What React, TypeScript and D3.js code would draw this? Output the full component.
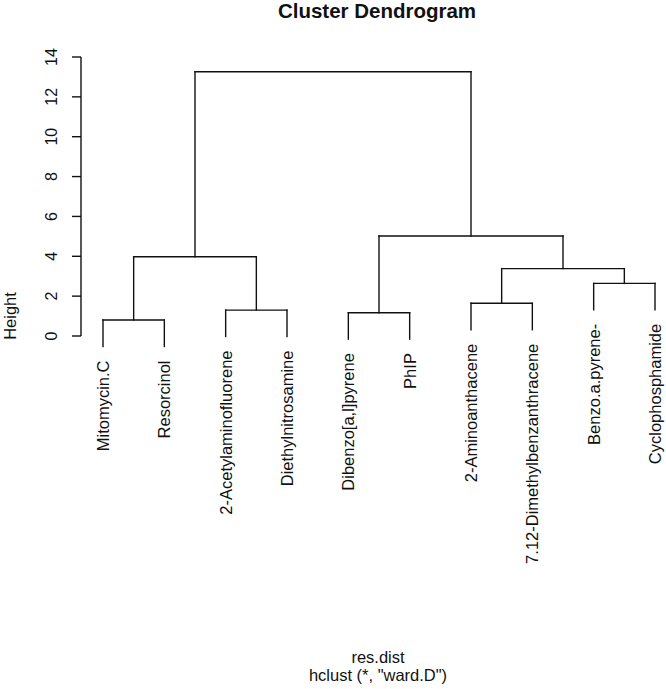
import React, { useRef, useEffect } from 'react';
import * as d3 from 'd3';

// leaf labels in plotting order
const labels = [
  'Mitomycin.C',
  'Resorcinol',
  '2-Acetylaminofluorene',
  'Diethylnitrosamine',
  'Dibenzo[a,l]pyrene',
  'PhIP',
  '2-Aminoanthacene',
  '7.12-Dimethylbenzanthracene',
  'Benzo.a.pyrene-',
  'Cyclophosphamide',
];

// hclust-style merge table: negative = leaf (1-based), positive = earlier step
const mergeLeft = [-1, -5, -3, -7, -9, 4, 1, 2, 7];
const mergeRight = [-2, -6, -4, -8, -10, 5, 3, 6, 8];
const mergeHeight = [0.8, 1.17, 1.3, 1.64, 2.64, 3.38, 3.98, 5.02, 13.26];

const yTicks = [0, 2, 4, 6, 8, 10, 12, 14];

const font = '"Liberation Sans", Arial, Helvetica, sans-serif';

const App: React.FC = () => {
  const ref = useRef<SVGSVGElement>(null);
  const width = 666;
  const height = 689;

  useEffect(() => {
    const svg = d3.select(ref.current!);
    svg.selectAll('*').remove();

    const x = d3.scalePoint<string>().domain(labels).range([103, 655]);
    const y = d3.scaleLinear().domain([0, 14]).range([336, 57]);
    const hang = 0.1 * d3.max(mergeHeight)!;

    // positions of each merge node
    const nodeX: number[] = [];
    const pos = (id: number) => {
      if (id < 0) return x(labels[-id - 1])!;
      return nodeX[id - 1];
    };
    const lines: [number, number, number, number][] = [];

    mergeHeight.forEach((h, i) => {
      const a = mergeLeft[i];
      const b = mergeRight[i];
      const xa = pos(a);
      const xb = pos(b);
      nodeX.push((xa + xb) / 2);
      const ya = a < 0 ? h - hang : mergeHeight[a - 1];
      const yb = b < 0 ? h - hang : mergeHeight[b - 1];
      lines.push([xa, y(ya), xa, y(h)]);
      lines.push([xa, y(h), xb, y(h)]);
      lines.push([xb, y(h), xb, y(yb)]);
    });

    const g = svg.append('g');
    g.selectAll('line.seg')
      .data(lines)
      .enter().append('line')
      .attr('class', 'seg')
      .attr('x1', d => d[0])
      .attr('y1', d => d[1])
      .attr('x2', d => d[2])
      .attr('y2', d => d[3])
      .attr('stroke', '#111')
      .attr('stroke-width', 1.4)
      .attr('stroke-linecap', 'square');

    // leaf labels
    const leafEnd = labels.map((l, i) => {
      const step = mergeLeft.indexOf(-(i + 1)) >= 0 ? mergeLeft.indexOf(-(i + 1)) : mergeRight.indexOf(-(i + 1));
      return y(mergeHeight[step] - hang);
    });
    g.selectAll('text.leaf')
      .data(labels)
      .enter().append('text')
      .attr('class', 'leaf')
      .attr('transform', (d, i) => `translate(${x(d)! + 6},${leafEnd[i] + 14}) rotate(-90)`)
      .attr('text-anchor', 'end')
      .attr('font-family', font)
      .attr('font-size', 16.5)
      .attr('fill', '#111')
      .text(d => d);

    // y axis
    const axis = svg.append('g');
    axis.append('line')
      .attr('x1', 81).attr('x2', 81)
      .attr('y1', y(0)).attr('y2', y(14))
      .attr('stroke', '#111').attr('stroke-width', 1.4);
    axis.selectAll('line.tick')
      .data(yTicks)
      .enter().append('line')
      .attr('class', 'tick')
      .attr('x1', 72).attr('x2', 81)
      .attr('y1', d => y(d)).attr('y2', d => y(d))
      .attr('stroke', '#111').attr('stroke-width', 1.4);
    axis.selectAll('text.tick')
      .data(yTicks)
      .enter().append('text')
      .attr('class', 'tick')
      .attr('transform', d => `translate(57,${y(d)}) rotate(-90)`)
      .attr('text-anchor', 'middle')
      .attr('font-family', font)
      .attr('font-size', 16)
      .attr('fill', '#111')
      .text(d => d);

    svg.append('text')
      .attr('transform', 'translate(16,316) rotate(-90)')
      .attr('text-anchor', 'middle')
      .attr('font-family', font)
      .attr('font-size', 16.5)
      .attr('fill', '#111')
      .text('Height');

    svg.append('text')
      .attr('x', 377).attr('y', 18)
      .attr('text-anchor', 'middle')
      .attr('font-family', font)
      .attr('font-size', 20.5)
      .attr('font-weight', 'bold')
      .attr('fill', '#111')
      .text('Cluster Dendrogram');

    svg.append('text')
      .attr('x', 378).attr('y', 663)
      .attr('text-anchor', 'middle')
      .attr('font-family', font)
      .attr('font-size', 16.5)
      .attr('fill', '#111')
      .text('res.dist');

    svg.append('text')
      .attr('x', 378).attr('y', 681)
      .attr('text-anchor', 'middle')
      .attr('font-family', font)
      .attr('font-size', 16.5)
      .attr('fill', '#111')
      .text('hclust (*, "ward.D")');
  }, []);

  return (
    <svg ref={ref} width={width} height={height}
      style={{ position: 'absolute', left: 0, top: 0, background: '#fff' }} />
  );
};

export default App;
